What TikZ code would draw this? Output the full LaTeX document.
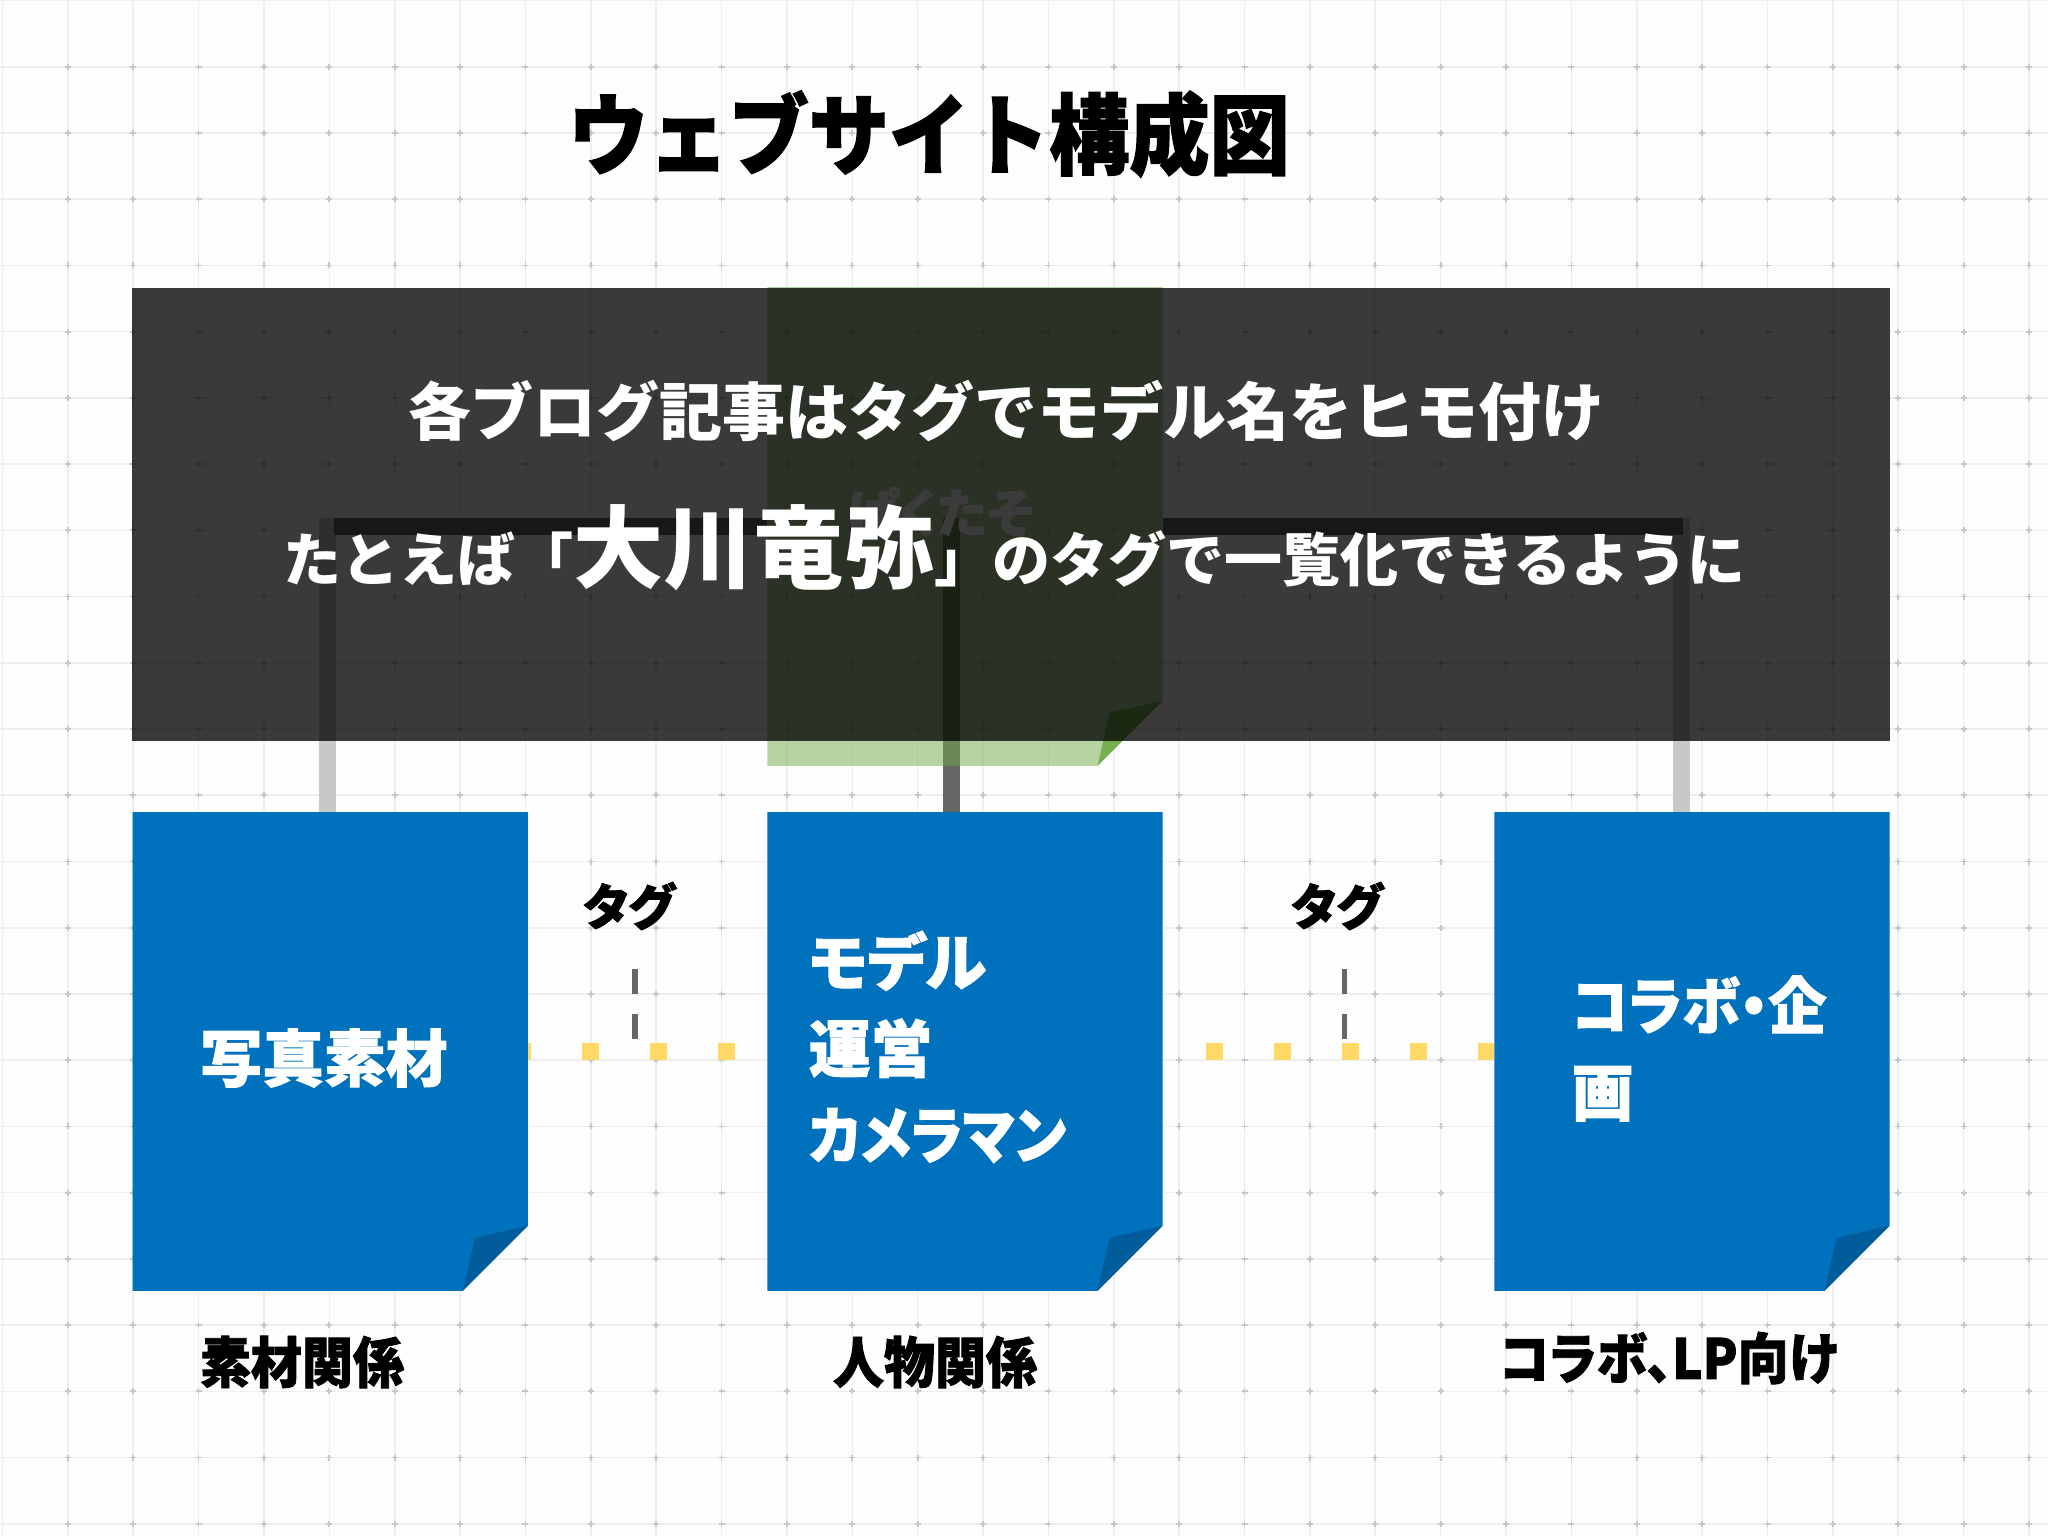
\documentclass[tikz,border=0pt]{standalone}
\usepackage{fontspec}
\usepackage{graphicx}
\setmainfont{Noto Sans CJK JP}
\newfontfamily\jp{Noto Sans CJK JP}
\newfontfamily\jph{Noto Sans CJK JP}[RawFeature=+palt, BoldFeatures={FakeBold=1.6}]
\newfontfamily\jphn{Noto Sans CJK JP}[BoldFeatures={FakeBold=1.6}]
\usetikzlibrary{calc}
\definecolor{bgc}{HTML}{FDFDFD}
\definecolor{gridc}{HTML}{EEEEF0}
\definecolor{tickc}{HTML}{C8C8CC}
\definecolor{connd}{HTML}{666666}
\definecolor{connl}{HTML}{C8C8C8}
\definecolor{dotc}{HTML}{FFD966}
\definecolor{tagc}{HTML}{666666}
\definecolor{bluec}{HTML}{0071BC}
\definecolor{bluefold}{HTML}{005C9A}
\definecolor{greenc}{HTML}{70AD47}
\newcommand{\stickynote}[4]{%
  \fill[#2] (#1.north west) -- (#1.north east) -- ($(#1.south east)+(0,-65)$)
     -- ($(#1.south east)+(-65,0)$) -- (#1.south west) -- cycle;
  \fill[#3, fill opacity=#4] ($(#1.south east)+(0,-65)$) -- ($(#1.south east)+(-53,-53)$)
     -- ($(#1.south east)+(-65,0)$) -- cycle;}
\begin{document}
\begin{tikzpicture}[x=0.01cm,y=-0.01cm,
  gridline/.style={draw=gridc, line width=0.45pt},
  tickmark/.style={draw=tickc, line width=0.5pt},
  notebox/.style={rectangle, inner sep=0pt, minimum width=3.935cm, minimum height=4.77cm},
  notetext/.style={text=white, font=\jph\bfseries\fontsize{17.6}{24.6}\selectfont, inner sep=0pt, align=left},
  undertext/.style={text=black, font=\jph\bfseries\fontsize{14.5}{17}\selectfont, inner sep=0pt},
  taglabel/.style={text=black, font=\jph\bfseries\fontsize{14}{16}\selectfont, inner sep=0pt},
  darkconn/.style={draw=connd, line width=4.84pt},
  lightconn/.style={draw=connl, line width=4.84pt},
  yellowdots/.style={draw=dotc, line width=4.84pt, dash pattern=on 4.837pt off 14.511pt},
  tagdash/.style={draw=tagc, line width=1.56pt, dash pattern=on 7.11pt off 5.69pt},
  capbox/.style={rectangle, inner sep=0pt, fill=black, fill opacity=0.77, minimum width=17.56cm, minimum height=4.53cm},
  captext/.style={text=white, font=\jp\bfseries\fontsize{17.9}{22}\selectfont, inner sep=0pt},
  ghost/.style={text=white, font=\jph\bfseries\fontsize{14.8}{17}\selectfont, inner sep=0pt},
  titlestyle/.style={text=black, font=\jphn\bfseries\fontsize{22.8}{26}\selectfont, inner sep=0pt}
]
\useasboundingbox (0,0) rectangle (2048,1536);
% background grid
\fill[bgc] (0,0) rectangle (2048,1536);
\foreach \i in {0,...,31} \draw[gridline] ({2.5+65.37*\i},0) -- ({2.5+65.37*\i},1536);
\foreach \j in {0,...,23} \draw[gridline] (0,{0.5+66.23*\j}) -- (2048,{0.5+66.23*\j});
\foreach \i in {1,...,31} {\foreach \j in {1,...,23} {
  \draw[tickmark] ({2.5+65.37*\i-3},{0.5+66.23*\j}) -- ++(6,0)
                  ({2.5+65.37*\i},{0.5+66.23*\j-3}) -- ++(0,6);}}
% title
\node[titlestyle] (title) at (929,134) {\scalebox{1}[1.1]{ウェブサイト構成図}};
% note frames
\node[notebox] (g) at (965,526.5) {};
\node[notebox] (n1) at (330.25,1051.5) {};
\node[notebox] (n2) at (965,1051.5) {};
\node[notebox] (n3) at (1692,1051.5) {};
% connectors
\draw[lightconn] ($(n1.north |- g.center)+(-2.5,-8.5)$) -- ($(n1.north)+(-2.5,0)$);
\draw[lightconn] ($(n3.north |- g.center)+(-11,-8.5)$) -- ($(n3.north)+(-11,0)$);
\draw[darkconn] (g.west) -- ($(n1.north |- g.center)+(4,0)$);
\draw[darkconn] (g.east) -- ($(n3.north |- g.center)+(-9,0)$);
\draw[darkconn] ($(n2.north |- g.center)+(-13.5,-8.5)$) -- ($(n2.north)+(-13.5,0)$);
% yellow dotted links
\draw[yellowdots, dash phase=3.983pt] (n1.east) -- (n2.west);
\draw[yellowdots, dash phase=7.113pt] (n2.east) -- (n3.west);
% notes
\stickynote{g}{greenc, fill opacity=0.5}{greenc}{0.9}
\stickynote{n1}{bluec}{bluefold}{1}
\stickynote{n2}{bluec}{bluefold}{1}
\stickynote{n3}{bluec}{bluefold}{1}
\node[ghost] (gt) at (940,512) {ぱくたそ};
% note texts
\node[notetext] (t1) at (324,1058) {写真素材};
\node[notetext, anchor=west] (t2) at (808,1047) {モデル\\運営\\\scalebox{0.91}[1]{カメラマン}};
\node[notetext, anchor=west] (t3) at (1571,1048.5) {\scalebox{0.94}[1]{コラボ・企}\\画};
% tag labels
\node[taglabel] (tg1) at (629,906) {タグ};
\node[taglabel] (tg2) at (1337,906) {タグ};
\coordinate (d1a) at (635,969);
\coordinate (d1b) at (635,1039);
\coordinate (d2a) at (1344.7,969);
\coordinate (d2b) at (1344.7,1039);
\draw[tagdash] (d1a) -- (d1b);
\draw[tagdash] (d2a) -- (d2b);
% labels under notes
\node[undertext] (l1) at (302,1362) {\scalebox{1}[1.08]{素材関係}};
\node[undertext] (l2) at (935,1362) {\scalebox{1}[1.08]{人物関係}};
\node[undertext, anchor=west] (l3) at (1499,1358) {\scalebox{1}[1.08]{コラボ、LP向け}};
% caption overlay
\node[capbox] (cap) at (1011,514.5) {};
\node[captext] (c1) at (1006,411.5) {各ブログ記事はタグでモデル名をヒモ付け};
\node[captext, font=\jp\bfseries\fontsize{16.5}{22}\selectfont] (c2) at (1014.5,548)
  {たとえば「{\fontsize{25.6}{28}\selectfont 大川竜弥}」のタグで一覧化できるように};
\end{tikzpicture}
\end{document}
